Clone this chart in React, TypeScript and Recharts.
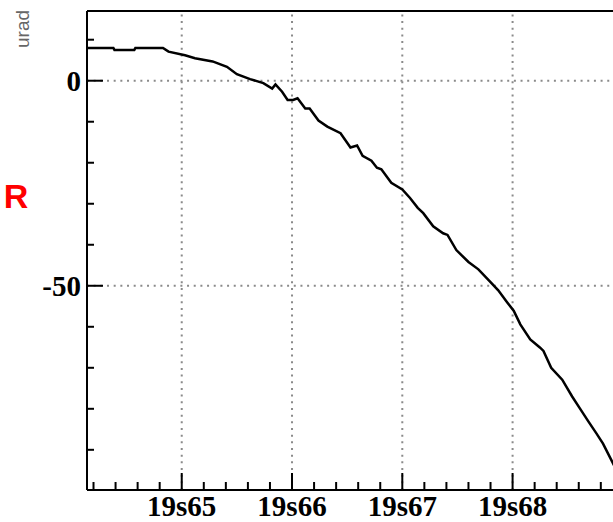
import { LineChart, Line, XAxis, YAxis, ReferenceLine } from "recharts";

// time axis (seconds, labelled "19sNN") and beam offset in urad
const times = [
    64.14, 64.38, 64.39, 64.57, 64.58, 64.83, 64.88, 65.03, 65.12, 65.28,
    65.41, 65.5, 65.62, 65.74, 65.82, 65.85, 65.91, 65.96, 66.01, 66.05,
    66.12, 66.16, 66.24, 66.32, 66.44, 66.53, 66.59, 66.64, 66.72, 66.77,
    66.81, 66.9, 67.0, 67.07, 67.14, 67.19, 67.28, 67.37, 67.41, 67.49,
    67.6, 67.69, 67.8, 67.87, 67.95, 68.01, 68.07, 68.16, 68.25, 68.28,
    68.35, 68.45, 68.54, 68.61, 68.69, 68.76, 68.82, 68.92,
];
const urad = [
    8.0, 8.0, 7.5, 7.5, 8.0, 8.0, 7.1, 6.2, 5.5, 4.7,
    3.4, 1.6, 0.4, -0.6, -1.9, -0.9, -2.7, -4.7, -4.7, -4.3,
    -6.8, -6.8, -9.7, -11.2, -12.8, -16.3, -15.8, -18.3, -19.5, -21.2,
    -21.6, -24.9, -26.5, -28.6, -31.0, -32.3, -35.5, -37.2, -37.6, -41.3,
    -44.2, -46.0, -49.1, -51.1, -54.0, -56.1, -59.4, -63.1, -65.1, -65.9,
    -70.0, -72.9, -77.0, -79.9, -83.2, -86.0, -88.5, -93.8,
];

const xMajor = [65, 66, 67, 68];
const xTicks = [
    64.2, 64.4, 64.6, 64.8, 65, 65.2, 65.4, 65.6, 65.8, 66, 66.2, 66.4, 66.6,
    66.8, 67, 67.2, 67.4, 67.6, 67.8, 68, 68.2, 68.4, 68.6, 68.8,
];
const yMajor = [0, -50];
const yTicks = [10, 0, -10, -20, -30, -40, -50, -60, -70, -80, -90];
const yTop = 17;

const data = times.map((t, i) => ({ t, v: urad[i] }));

const labelStyle = {
    fontFamily: "Liberation Serif",
    fontWeight: "bold" as const,
    fontSize: 29,
    fill: "#000",
};

const gridStyle = { stroke: "#8a8a8a", strokeWidth: 2, strokeDasharray: "2 4.67" };

function XTick(props: any) {
    const { x, y, payload } = props;
    const major = xMajor.some((m) => Math.abs(m - payload.value) < 1e-6);
    return (
        <g>
            <line x1={x} x2={x} y1={y} y2={y - (major ? 17 : 8)} stroke="#000" strokeWidth={2} />
            {major && (
                <text x={x} y={y + 26} textAnchor="middle" style={labelStyle}>
                    {`19s${payload.value}`}
                </text>
            )}
        </g>
    );
}

function YTick(props: any) {
    const { x, y, payload } = props;
    const major = yMajor.includes(payload.value);
    return (
        <g>
            <line x1={x} x2={x + (major ? 16 : 7)} y1={y} y2={y} stroke="#000" strokeWidth={2} />
            {major && (
                <text x={x - 6} y={y} dy="0.34em" textAnchor="end" style={labelStyle}>
                    {payload.value}
                </text>
            )}
        </g>
    );
}

export default function App() {
    return (
        <div
            style={{
                position: "fixed",
                left: 0,
                top: 0,
                width: 613,
                height: 522,
                overflow: "hidden",
                background: "#fff",
            }}
        >
            <LineChart
                width={640}
                height={522}
                data={data}
                margin={{ top: 11, right: 20, bottom: 0, left: 0 }}
            >
                <XAxis
                    dataKey="t"
                    type="number"
                    domain={[64.141, 68.974]}
                    ticks={xTicks}
                    interval={0}
                    allowDataOverflow
                    height={32}
                    tickSize={0}
                    tickMargin={0}
                    tick={<XTick />}
                    axisLine={{ stroke: "#000", strokeWidth: 2 }}
                />
                <YAxis
                    type="number"
                    domain={[-99.8, yTop]}
                    ticks={yTicks}
                    interval={0}
                    allowDataOverflow
                    width={87}
                    tickSize={0}
                    tickMargin={0}
                    tick={<YTick />}
                    axisLine={{ stroke: "#000", strokeWidth: 2 }}
                />
                {xMajor.map((m) => (
                    <ReferenceLine key={`x${m}`} x={m} {...gridStyle} />
                ))}
                {yMajor.map((m) => (
                    <ReferenceLine key={`y${m}`} y={m} {...gridStyle} />
                ))}
                {/* top frame */}
                <ReferenceLine y={yTop} stroke="#000" strokeWidth={2} />
                <Line
                    type="linear"
                    dataKey="v"
                    stroke="#000"
                    strokeWidth={2.5}
                    dot={false}
                    isAnimationActive={false}
                />
            </LineChart>
            <svg
                width={87}
                height={522}
                style={{ position: "absolute", left: 0, top: 0, pointerEvents: "none" }}
            >
                <text
                    transform="translate(29,29) rotate(-90)"
                    textAnchor="middle"
                    style={{ fontFamily: "Liberation Sans", fontSize: 19, fill: "#666" }}
                >
                    urad
                </text>
                <text
                    x={16}
                    y={208}
                    textAnchor="middle"
                    style={{ fontFamily: "Liberation Sans", fontWeight: "bold", fontSize: 34, fill: "#f00" }}
                >
                    R
                </text>
            </svg>
        </div>
    );
}
